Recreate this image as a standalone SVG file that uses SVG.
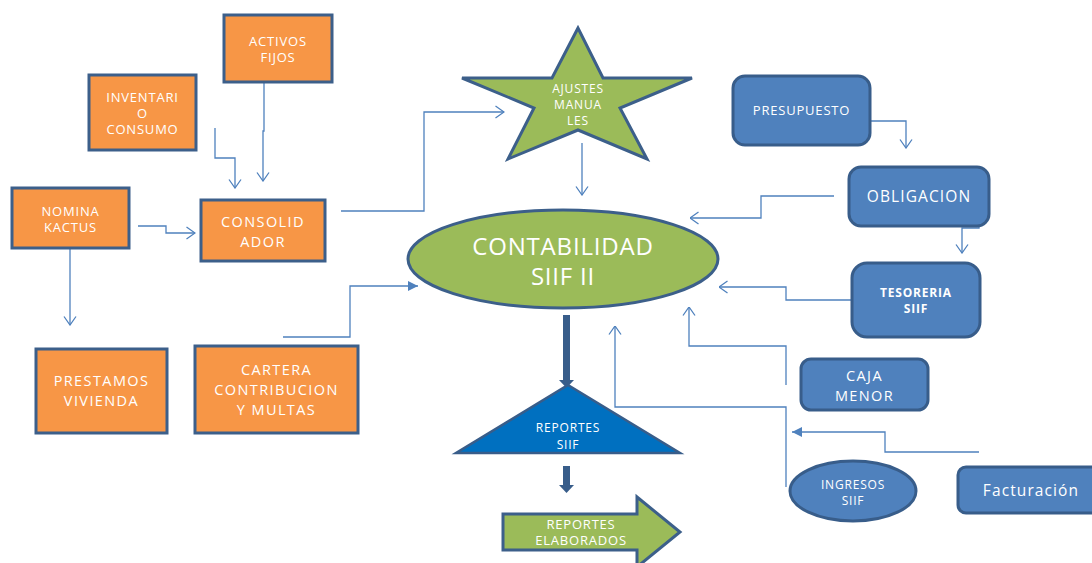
<svg xmlns="http://www.w3.org/2000/svg" width="1092" height="563" viewBox="0 0 1092 563">
<style>
.org{fill:#f79646;stroke:#3c5f8a;stroke-width:3}
.grn{fill:#9bbb59;stroke:#3c5f8a;stroke-width:3}
.blu{fill:#4f81bd;stroke:#385d8a;stroke-width:3}
.tri{fill:#0070c0;stroke:#385d8a;stroke-width:2.5}
text{font-family:"Open Sans","Liberation Sans",sans-serif;fill:#ffffff;text-anchor:middle;letter-spacing:0.8px}
.s13{font-size:13px}
.s12{font-size:12px}
.s16{font-size:15.5px;letter-spacing:1.1px}
.s15{font-size:14.5px;letter-spacing:1.4px}
.s24{font-size:24px}
.b{font-weight:bold}
.c{fill:none;stroke:#4f81bd;stroke-width:1.3}
.o{marker-end:url(#open)}
.f{marker-end:url(#fill)}
</style>
<defs>
<marker id="open" viewBox="0 0 10 14" refX="9.5" refY="7" markerWidth="10" markerHeight="14" markerUnits="userSpaceOnUse" orient="auto">
<path d="M1,1 L9.5,7 L1,13" fill="none" stroke="#4f81bd" stroke-width="1.3"/>
</marker>
<marker id="fill" viewBox="0 0 10 10" refX="10" refY="5" markerWidth="10" markerHeight="10" markerUnits="userSpaceOnUse" orient="auto">
<path d="M0,0 L10,5 L0,10 z" fill="#4f81bd"/>
</marker>
</defs>
<rect width="1092" height="563" fill="#ffffff"/>
<g id="connectors">
<path class="c o" d="M264,83 V131 H263 V181"/>
<path class="c o" d="M215,128 V158 H235 V188"/>
<path class="c o" d="M138,226 H166 V233 H195"/>
<path class="c o" d="M70,248 V325"/>
<path class="c o" d="M341,211 H424 V112 H504"/>
<path class="c o" d="M582,143 V195"/>
<path class="c f" d="M283,337 H350 V286 H418"/>
<path class="c o" d="M869,121 H906 V148"/>
<path class="c o" d="M834,196 H761 V218 H690"/>
<path class="c o" d="M979,205 V228 H962 V253"/>
<path class="c o" d="M852,300 H786 V287 H719"/>
<path class="c o" d="M786,385 V346 H689 V307"/>
<path class="c o" d="M786,487 V407 H615 V326"/>
<path class="c f" d="M979,452 H885 V432 H792"/>
<path d="M563,315 H570 V380 H574 L566.5,388 L559,380 H563 Z" fill="#385d8a"/>
<path d="M563,466 H570 V485 H574 L566.5,493 L559,485 H563 Z" fill="#385d8a"/>
</g>
<g id="activos">
<rect class="org" x="224" y="15" width="108" height="67"/>
<text class="s13" x="278" y="46">ACTIVOS</text>
<text class="s13" x="278" y="62">FIJOS</text>
</g>
<g id="inventario">
<rect class="org" x="89" y="75" width="107" height="75"/>
<text class="s13" x="142.5" y="102">INVENTARI</text>
<text class="s13" x="142.5" y="118">O</text>
<text class="s13" x="142.5" y="134">CONSUMO</text>
</g>
<g id="nomina">
<rect class="org" x="12" y="188" width="117" height="60"/>
<text class="s13" x="70.5" y="216">NOMINA</text>
<text class="s13" x="70.5" y="232">KACTUS</text>
</g>
<g id="consolidador">
<rect class="org" x="201" y="200" width="124" height="61"/>
<text class="s15" x="263" y="227">CONSOLID</text>
<text class="s15" x="263" y="247">ADOR</text>
</g>
<g id="prestamos">
<rect class="org" x="36" y="349" width="131" height="84"/>
<text class="s15" x="101.5" y="386">PRESTAMOS</text>
<text class="s15" x="101.5" y="406">VIVIENDA</text>
</g>
<g id="cartera">
<rect class="org" x="195" y="346" width="163" height="87"/>
<text class="s15" x="276.5" y="375">CARTERA</text>
<text class="s15" x="276.5" y="395">CONTRIBUCION</text>
<text class="s15" x="276.5" y="415">Y MULTAS</text>
</g>
<g id="ajustes">
<polygon class="grn" points="578,28 552,78 462,78 534,108 508,159 578,130 647,159 620,108 692,78 603,78"/>
<text class="s12" x="578" y="93">AJUSTES</text>
<text class="s12" x="578" y="109">MANUA</text>
<text class="s12" x="578" y="125">LES</text>
</g>
<g id="contabilidad">
<ellipse class="grn" cx="563" cy="259" rx="155" ry="49"/>
<text class="s24" x="563" y="255">CONTABILIDAD</text>
<text class="s24" x="563" y="285">SIIF II</text>
</g>
<g id="reportes-siif">
<polygon class="tri" points="568,385 680,453 456,453"/>
<text class="s12" x="568" y="432">REPORTES</text>
<text class="s12" x="568" y="449">SIIF</text>
</g>
<g id="reportes-elaborados">
<polygon class="grn" points="503,514 637,514 637,497 680,532 637,567 637,550 503,550"/>
<text class="s13" x="581" y="529">REPORTES</text>
<text class="s13" x="581" y="545">ELABORADOS</text>
</g>
<g id="presupuesto">
<rect class="blu" x="733" y="76" width="137" height="69" rx="12"/>
<text class="s13" x="801.5" y="115">PRESUPUESTO</text>
</g>
<g id="obligacion">
<rect class="blu" x="849" y="167" width="140" height="59" rx="12"/>
<text class="s16" x="919" y="202">OBLIGACION</text>
</g>
<g id="tesoreria">
<rect class="blu" x="852" y="263" width="128" height="74" rx="15"/>
<text class="s12 b" x="916" y="297">TESORERIA</text>
<text class="s12 b" x="916" y="313">SIIF</text>
</g>
<g id="caja-menor">
<rect class="blu" x="801" y="359" width="127" height="51" rx="10"/>
<text class="s15" x="864.5" y="381">CAJA</text>
<text class="s15" x="864.5" y="401">MENOR</text>
</g>
<g id="ingresos">
<ellipse class="blu" cx="853" cy="491" rx="63" ry="30"/>
<text class="s12" x="853" y="489">INGRESOS</text>
<text class="s12" x="853" y="505">SIIF</text>
</g>
<g id="facturacion">
<rect class="blu" x="958" y="467" width="150" height="46" rx="8"/>
<text class="s16" x="1031" y="496">Facturación</text>
</g>
</svg>
